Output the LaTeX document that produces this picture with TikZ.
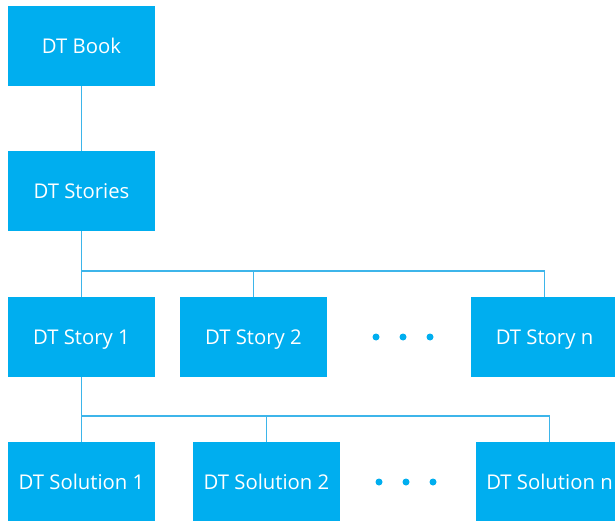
\documentclass[tikz,border=0pt]{standalone}
\usepackage{fontspec}
\setmainfont{Open Sans}
\definecolor{boxcyan}{HTML}{00AEEF}
\definecolor{linecyan}{HTML}{3DB5EA}
\begin{document}
\begin{tikzpicture}[x=1pt,y=-1pt,
  box/.style={fill=boxcyan,draw=none,minimum width=147pt,minimum height=80pt,inner sep=0pt,
    text=white,font=\fontsize{20.3}{24}\selectfont,text height=14.5pt,text depth=0pt},
  conn/.style={draw=linecyan,line width=1.3pt},
  dot/.style={circle,fill=boxcyan,minimum size=7pt,inner sep=0pt}]
\useasboundingbox (0,0) rectangle (615,521);
\clip (0,0) rectangle (615,521);
\node[box] (book) at (81.5,46) {DT Book};
\node[box] (stories) at (81.5,191) {DT Stories};
\node[box] (s1) at (81.5,337) {DT Story 1};
\node[box] (s2) at (253.5,337) {DT Story 2};
\node[box] (sn) at (544.5,337) {DT Story n};
\node[dot] (d1) at (376,337) {};
\node[dot] (d2) at (403,337) {};
\node[dot] (d3) at (430,337) {};
\node[box] (o1) at (81.5,482) {DT Solution 1};
\node[box] (o2) at (266.5,482) {DT Solution 2};
\node[box] (on) at (549.5,482) {DT Solution n};
\node[dot] (e1) at (379,482) {};
\node[dot] (e2) at (406,482) {};
\node[dot] (e3) at (433,482) {};
\coordinate (bus1) at (81.5,271);
\coordinate (bus2) at (81.5,416);
\draw[conn] (book.south) -- (stories.north);
\draw[conn] (stories.south) -- (s1.north);
\draw[conn] (bus1) -| (s2.north);
\draw[conn] (bus1) -| (sn.north);
\draw[conn] (s1.south) -- (o1.north);
\draw[conn] (bus2) -| (o2.north);
\draw[conn] (bus2) -| (on.north);
\end{tikzpicture}
\end{document}
